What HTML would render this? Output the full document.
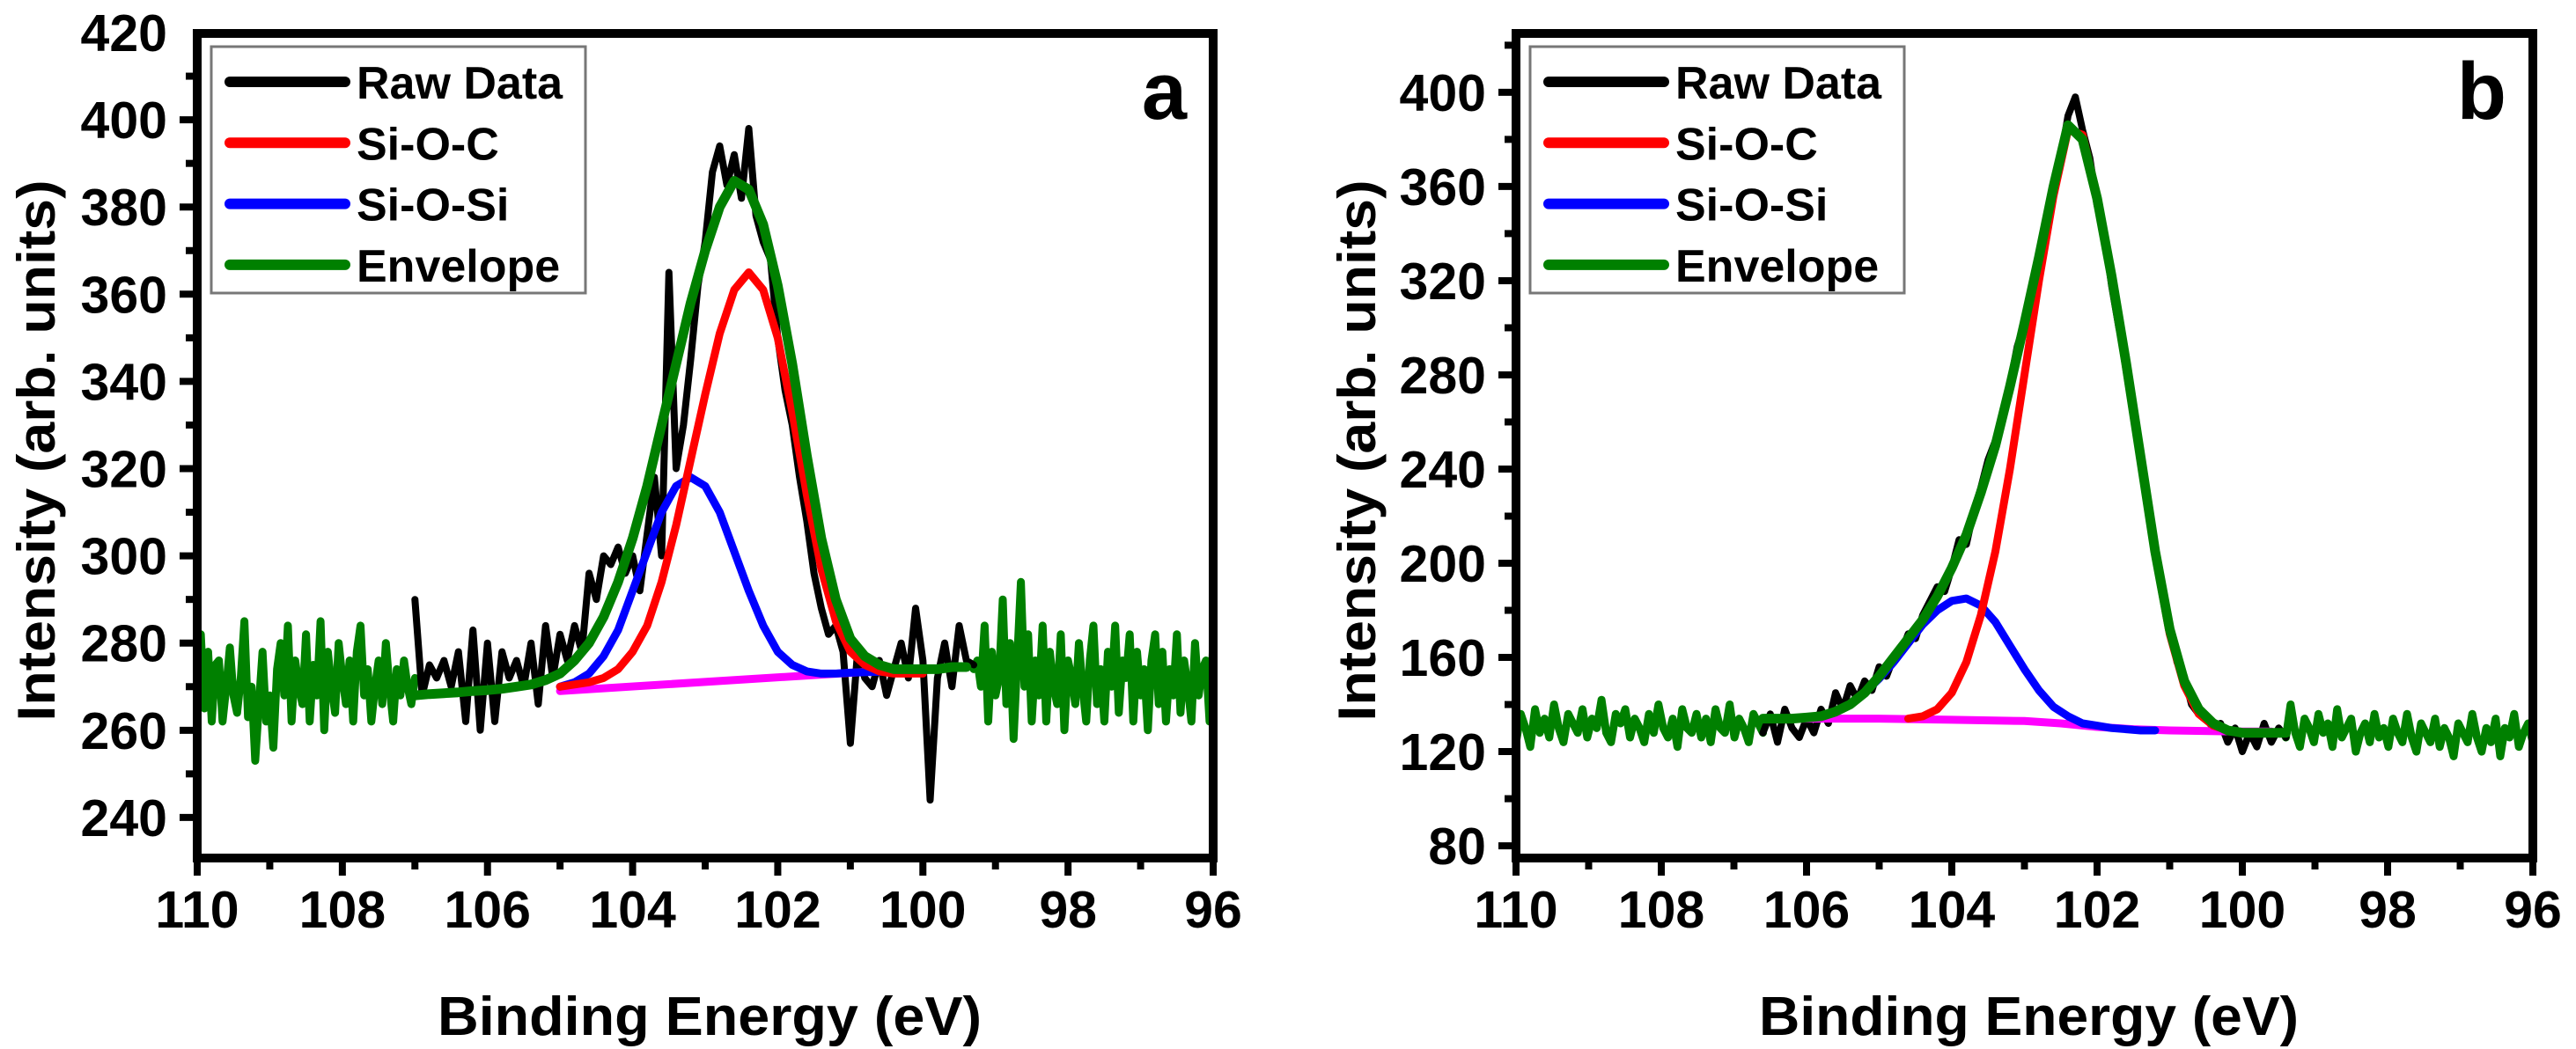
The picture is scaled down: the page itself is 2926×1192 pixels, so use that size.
<!DOCTYPE html>
<html><head><meta charset="utf-8"><style>
html,body{margin:0;padding:0;background:#fff;}
svg{display:block;}
text{font-family:"Liberation Sans",sans-serif;font-weight:bold;fill:#000;}
</style></head><body>
<svg id="fig" width="2926" height="1192" viewBox="0 0 2926 1192" xmlns="http://www.w3.org/2000/svg"></svg>
<script>
// ---------- Panel a data ----------
const aRawStart = 107, aRawStep = 0.1;
const aRaw = [290,268,275,272,276,270,278,262,283,260,
 280,262,278,272,276,270,280,266,284,272,
 282,276,284,278,296,290,300,298,302,296,
 300,292,305,318,300,365,320,330,345,362,
 372,388,394,385,392,382,398,378,372,368,
 350,338,330,318,308,296,288,282,284,278,
 257,278,272,270,276,268,274,280,272,288,
 276,244,272,280,270,284,276,275];
const aNoiseL = [270,282,265,278,262,275,276,262,270,279,268,264,272,285,263,270,253,266,278,262,268,256,274,280,268,284,262,276,270,266,282,262,275,268,285,260,278,270,264,280,272,266,276,262,278,284,268,274,262,270,276,266,280,270,262,274,268,276,270,266,272];
const aNoiseR = [274,276,270,284,262,278,268,272,290,266,280,258,276,294,270,282,262,276,268,284,262,278,270,266,282,260,276,272,266,280,270,262,276,284,266,274,262,278,270,284,264,276,272,282,262,278,268,274,260,276,282,266,278,262,274,268,282,264,276,270,262,280,268,274,276,262,280];
const aEnvStart = 107;
const aEnv = [268,268.3,268.5,268.7,269,269.2,269.5,270,270.5,271.5,273,276,280,286,294,304,316,330,344,358,370,380,386,384,376,362,344,323,304,290,281,277,275,274,274,274,274,274.5,274.5];
const aRedStart = 105;
const aRed = [270,270.5,271,272,274,278,284,294,307,322,337,351,361,365,361,350,333,314,297,285,278,275,273.5,273,273,273];
const aBlueStart = 105;
const aBlue = [270,271,273,277,283,292,301,310,316,318,316,310,301,292,284,278,275,273.5,273,273,273.2,273.3,273.4,273.5,273.6,273.7];
const aBaseX = [105,100.2];
const aBaseY = [269,274];
const aYTicks = [240,260,280,300,320,340,360,380,400,420];
// ---------- Panel b data ----------
const bRawStart = 106.6, bRawStep = 0.1;
const bRaw = [128,136,124,138,130,126,134,128,138,132,
 145,138,148,142,150,146,156,152,160,162,
 170,168,178,184,190,188,198,210,208,222,
 232,244,252,262,276,292,302,318,328,346,
 362,372,390,398,384,372,352,340,318,300,
 288,262,248,222,206,186,174,158,152,140,
 136,134,130,132,124,130,120,128,122,132,
 124,130,126];
const bNoiseL = [124,136,130,122,138,128,134,126,140,130,124,136,132,128,138,126,134,130,142,128,124,136,132,138,126,134,130,124,136,128,140,130,126,134,122,138,130,128,136,126,134,124,138,130,128,140,126,134,130,124,136,132,128];
const bNoiseR = [126,140,128,122,134,130,124,136,128,132,122,138,126,130,134,120,128,132,124,136,126,130,122,134,128,124,136,126,120,132,128,124,134,122,130,126,118,132,128,124,136,126,120,130,124,134,118,130,126,136,122,128,132,124];
const bEnvStart = 106.6;
const bEnv = [134,134,134,134.5,135,137,140,145,152,160,168,176,186,198,212,230,250,275,302,330,360,386,380,355,322,285,245,205,172,150,138,132,129,128,128,128,128];
const bRedStart = 104.6;
const bRed = [134,135,138,145,158,178,205,240,280,320,356,384,382,356,322,283,244,204,170,148,136,131,129,128];
const bBlueStart = 105.8;
const bBlue = [135,137,140,145,151,158,166,174,180,184,185,182,175,165,155,146,139,135,132,131,130,129.5,129,129];
const bBaseX = [106.6,105,104,103,102.5,102,101.5,101,100,99.6];
const bBaseY = [134,134,133.5,133,132,130.5,129.5,129,128.5,128.5];
const bYTicks = [80,120,160,200,240,280,320,360,400];
const xTicks = [110,108,106,104,102,100,98,96];

const NS = "http://www.w3.org/2000/svg";
const svg = document.getElementById('fig');
function mk(tag, attrs, parent){const e=document.createElementNS(NS,tag);for(const k in attrs)e.setAttribute(k,attrs[k]);(parent||svg).appendChild(e);return e;}

function panel(cfg){
  const g = mk('g',{});
  
  
  const L=cfg.left,R=cfg.right,T=38,B=975;
  const sx = v => L + (110 - v)/(110-96)*(R-L);
  const sy = v => B - (v - cfg.ymin)/(cfg.ymax-cfg.ymin)*(B-T);
  function line(xs, ys, color, w, name){
    let d='';
    for(let i=0;i<ys.length;i++){d+=(i?'L':'M')+sx(xs[i]).toFixed(1)+','+sy(ys[i]).toFixed(1);}
    const p = mk('path',{d:d,fill:'none',stroke:color,'stroke-width':w,'stroke-linejoin':'round','stroke-linecap':'round'},g);
    
    
  }
  const seq=(start,step,n)=>Array.from({length:n},(_,i)=>start-i*step);
  const span=(a,b,n)=>Array.from({length:n},(_,i)=>a-(a-b)*i/(n-1));
  line(span(110,cfg.rawStart,cfg.noiseL.length), cfg.noiseL, '#008000', 9, cfg.id+'-envelope-left');
  const rawEnd = cfg.rawStart - cfg.rawStep*(cfg.raw.length-1);
  line(span(rawEnd,96,cfg.noiseR.length), cfg.noiseR, '#008000', 9, cfg.id+'-envelope-right');
  line(seq(cfg.rawStart,cfg.rawStep,cfg.raw.length), cfg.raw, '#000', 8, cfg.id+'-raw-data');
  line(cfg.baseX, cfg.baseY, '#ff00ff', 9, cfg.id+'-baseline');
  line(seq(cfg.blueStart,0.2,cfg.blue.length), cfg.blue, '#0000ff', 9, cfg.id+'-si-o-si');
  line(seq(cfg.redStart,0.2,cfg.red.length), cfg.red, '#ff0000', 9, cfg.id+'-si-o-c');
  line(seq(cfg.envStart,0.2,cfg.env.length), cfg.env, '#008000', 11, cfg.id+'-envelope');
  const fr = mk('rect',{x:L,y:T,width:R-L,height:B-T,fill:'none',stroke:'#000','stroke-width':10},g);
  
  
  for(let v=110; v>=96; v--){
    const major = v%2===0;
    mk('line',{x1:sx(v),x2:sx(v),y1:B,y2:B+(major?20:13),stroke:'#000','stroke-width':8},g);
  }
  xTicks.forEach(v=>{
    const t = mk('text',{x:sx(v),y:1054,'font-size':59,'text-anchor':'middle'},g);
    t.textContent=v;
    
    
  });
  const yt=cfg.yTicks, stepY=yt[1]-yt[0];
  for(let v=yt[0]-stepY; v<=cfg.ymax; v+=stepY/2){
    if(v<cfg.ymin) continue;
    const major = Math.abs(((v-yt[0])/stepY)%1)<1e-6;
    mk('line',{x1:L,x2:L-(major?20:13),y1:sy(v),y2:sy(v),stroke:'#000','stroke-width':8},g);
  }
  yt.forEach(v=>{
    const t = mk('text',{x:L-34,y:sy(v)+21,'font-size':59,'text-anchor':'end'},g);
    t.textContent=v;
    
    
  });
  const xt = mk('text',{x:(L+R)/2+5,y:1176,'font-size':62,'text-anchor':'middle',textLength:cfg.xtLen,lengthAdjust:'spacingAndGlyphs'},g);
  xt.textContent='Binding Energy (eV)';
  
  
  const ytt = mk('text',{x:0,y:0,'font-size':60,'text-anchor':'middle',textLength:615,lengthAdjust:'spacingAndGlyphs',transform:'translate('+cfg.ytX+',512) rotate(-90)'},g);
  ytt.textContent='Intensity (arb. units)';
  
  
  const pl = mk('text',{x:R-30,y:135,'font-size':92,'text-anchor':'end'},g);
  pl.textContent=cfg.id;
  
  
  const lg = mk('g',{},g);
  
  
  const lx=L+16;
  mk('rect',{x:lx,y:53,width:425,height:280,fill:'#fff',stroke:'#777','stroke-width':3},lg);
  const items=[['Raw Data','#000'],['Si-O-C','#ff0000'],['Si-O-Si','#0000ff'],['Envelope','#008000']];
  items.forEach((it,i)=>{
    const cy = 93 + i*69.3;
    const e = mk('g',{},lg);
    
    
    mk('line',{x1:lx+21,x2:lx+152,y1:cy,y2:cy,stroke:it[1],'stroke-width':12,'stroke-linecap':'round'},e);
    const t=mk('text',{x:lx+165,y:cy+19,'font-size':52},e);
    t.textContent=it[0];
  });
}
panel({id:'a',left:224,right:1378,ymin:230.7,ymax:419.8,raw:aRaw,rawStart:aRawStart,rawStep:aRawStep,noiseL:aNoiseL,noiseR:aNoiseR,env:aEnv,envStart:aEnvStart,red:aRed,redStart:aRedStart,blue:aBlue,blueStart:aBlueStart,baseX:aBaseX,baseY:aBaseY,yTicks:aYTicks,ytX:62,xtLen:618});
panel({id:'b',left:1722,right:2877,ymin:74.8,ymax:425,raw:bRaw,rawStart:bRawStart,rawStep:bRawStep,noiseL:bNoiseL,noiseR:bNoiseR,env:bEnv,envStart:bEnvStart,red:bRed,redStart:bRedStart,blue:bBlue,blueStart:bBlueStart,baseX:bBaseX,baseY:bBaseY,yTicks:bYTicks,ytX:1562,xtLen:613});
</script>
</body></html>
